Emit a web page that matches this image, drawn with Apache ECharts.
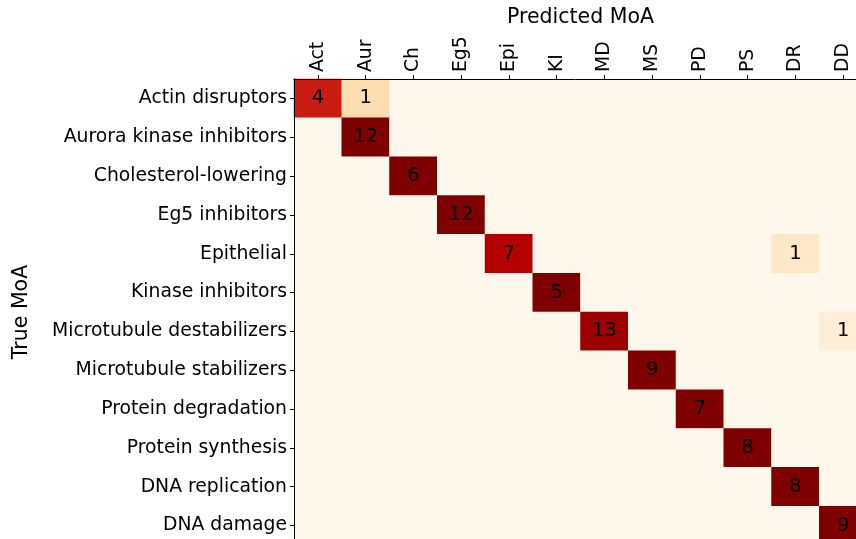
<!DOCTYPE html>
<html><head><meta charset="utf-8">
<script src="https://cdn.jsdelivr.net/npm/echarts@6/dist/echarts.min.js"></script>
<style>html,body{margin:0;padding:0;background:#fff}#c{width:856px;height:539px}</style>
</head><body><div id="c"></div>
<script>
const predLabels = ['Act','Aur','Ch','Eg5','Epi','KI','MD','MS','PD','PS','DR','DD'];
const trueLabels = ['Actin disruptors','Aurora kinase inhibitors','Cholesterol-lowering','Eg5 inhibitors','Epithelial','Kinase inhibitors','Microtubule destabilizers','Microtubule stabilizers','Protein degradation','Protein synthesis','DNA replication','DNA damage'];
// counts[row] = [column index, count] pairs (non-zero cells)
const counts = [
  [[0,4],[1,1]],
  [[1,12]],
  [[2,6]],
  [[3,12]],
  [[4,7],[10,1]],
  [[5,5]],
  [[6,13],[11,1]],
  [[7,9]],
  [[8,7]],
  [[9,8]],
  [[10,8]],
  [[11,9]]
];
const orrd = ['#fff7ec','#fee8c8','#fdd49e','#fdbb84','#fc8d59','#ef6548','#d7301f','#b30000','#7f0000'];

const data = [];
for (let r = 0; r < trueLabels.length; r++) {
  const row = new Array(predLabels.length).fill(0);
  counts[r].forEach(([c, v]) => { row[c] = v; });
  const total = row.reduce((a, b) => a + b, 0);
  for (let c = 0; c < predLabels.length; c++) {
    data.push([c, r, total ? row[c] / total : 0, row[c]]);
  }
}
const font = 'DejaVu Sans';
const chart = echarts.init(document.getElementById('c'), null, {renderer: 'canvas'});
chart.setOption({
  animation: false,
  textStyle: {fontFamily: font},
  grid: {left: 294, top: 79, width: 573, height: 466, containLabel: false, outerBoundsMode: 'none'},
  xAxis: {
    type: 'category', data: predLabels, position: 'top', z: 10,
    name: 'Predicted MoA', nameLocation: 'middle', nameGap: 49,
    nameTextStyle: {fontSize: 20.5, color: '#000', fontFamily: font},
    axisLine: {show: true, lineStyle: {color: '#000', width: 1}},
    axisTick: {show: true, alignWithLabel: true, length: 4, lineStyle: {color: '#000'}},
    axisLabel: {rotate: -90, fontSize: 18.8, color: '#000', fontFamily: font, margin: 7, interval: 0},
    splitLine: {show: false}, splitArea: {show: false}
  },
  yAxis: {
    type: 'category', data: trueLabels, inverse: true, z: 10,
    name: 'True MoA', nameLocation: 'middle', nameGap: 262,
    nameTextStyle: {fontSize: 20.5, color: '#000', fontFamily: font},
    axisLine: {show: true, lineStyle: {color: '#000', width: 1}},
    axisTick: {show: true, alignWithLabel: true, length: 4, lineStyle: {color: '#000'}},
    axisLabel: {fontSize: 18.8, color: '#000', fontFamily: font, margin: 7, interval: 0},
    splitLine: {show: false}, splitArea: {show: false}
  },
  visualMap: {
    show: false, type: 'continuous', min: 0, max: 1, dimension: 2,
    inRange: {color: orrd}
  },
  series: [{
    type: 'heatmap', data: data,
    label: {
      show: true, fontSize: 19.5, color: '#000', fontFamily: font,
      formatter: p => p.value[3] > 0 ? String(p.value[3]) : ''
    },
    itemStyle: {borderWidth: 0},
    emphasis: {disabled: true}
  }]
});
</script></body></html>
